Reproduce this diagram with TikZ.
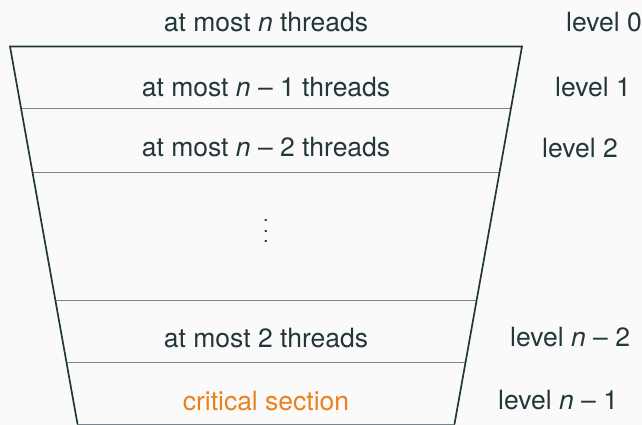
\documentclass[tikz,border=0pt]{standalone}
\usepackage{fontspec}
\setmainfont{TeX Gyre Heros}
\usetikzlibrary{calc}
\definecolor{mteal}{HTML}{23373B}
\definecolor{morange}{HTML}{EB811B}
\definecolor{mbg}{HTML}{FAFAFA}
\tikzset{
  lbl/.style={inner sep=0pt, text=mteal, font=\fontsize{26.5}{30}\selectfont},
  lvl/.style={lbl, anchor=west},
  side/.style={draw=mteal, line width=1.7pt, line cap=round, line join=miter},
  sep/.style={draw=mteal!60!mbg, line width=0.9pt},
}
\begin{document}
\begin{tikzpicture}[x=1pt,y=-1pt]
\fill[mbg] (0,0) rectangle (642,425);
\useasboundingbox (0,0) rectangle (642,425);
\coordinate (tl) at (10,46.5);
\coordinate (tr) at (522,46.5);
\coordinate (bl) at (77.5,424);
\coordinate (br) at (454.5,424);
% separators
\foreach \t/\n in {0.16424/a,0.33377/b,0.67152/c,0.83709/d}{
  \coordinate (l\n) at ($(tl)!\t!(bl)$);
  \coordinate (r\n) at ($(tr)!\t!(br)$);
}
\draw[sep] (la) -- (ra);
\draw[sep] (lb) -- (rb);
\draw[sep] (lc) -- (rc);
\draw[sep] (ld) -- (rd);
\draw[sep] (bl) -- (br);
\draw[side] (bl) -- (tl) -- (tr) -- (br);
% texts
\node[lbl] (t0) at (266,22) {at most \textit{n} threads};
\node[lbl] (t1) at (266,87) {at most \textit{n} – 1 threads};
\node[lbl] (t2) at (266,147.5) {at most \textit{n} – 2 threads};
\node[inner sep=0pt, text=mteal, font=\fontsize{20}{20}\selectfont] (td) at (266,231)
  {\vbox{\baselineskip=10.5pt\hbox{.}\hbox{.}\hbox{.}}};
\node[lbl] (t3) at (266,338) {at most 2 threads};
\node[lbl, text=morange] (t4) at (266,401) {critical section};
% levels
\node[lvl] (v0) at (566,22) {level 0};
\node[lvl] (v1) at (555,87) {level 1};
\node[lvl] (v2) at (542,148) {level 2};
\node[lvl] (v3) at (510,337) {level \textit{n} – 2};
\node[lvl] (v4) at (498,400.5) {level \textit{n} – 1};
\end{tikzpicture}
\end{document}
